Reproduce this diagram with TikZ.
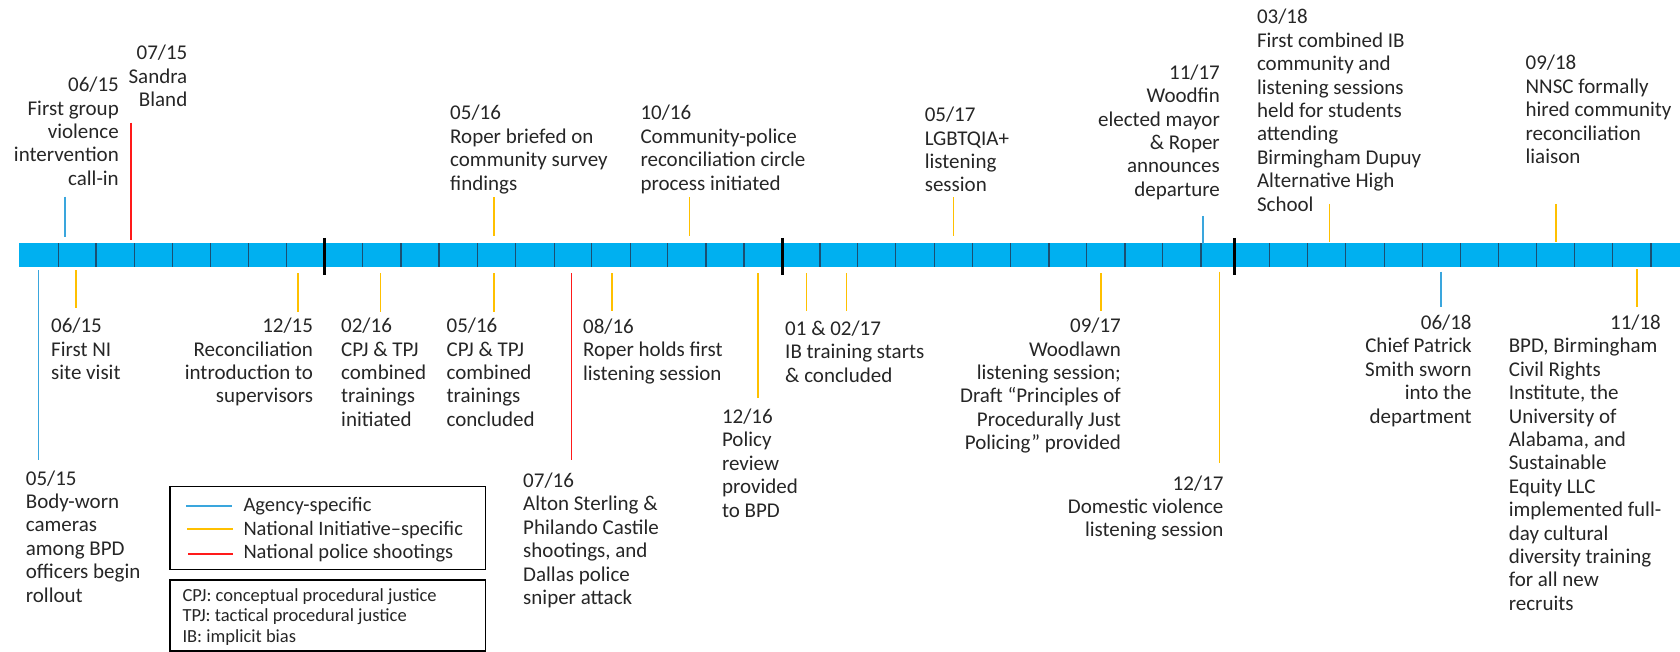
\documentclass[tikz,border=0pt]{standalone}
\usepackage{fontspec}
\setmainfont{Carlito}
\definecolor{barblue}{HTML}{00B0F0}
\definecolor{tickdark}{HTML}{1B4F72}
\definecolor{agencyblue}{HTML}{3AA6DD}
\definecolor{niyellow}{HTML}{FFC000}
\definecolor{shootred}{HTML}{FF1A1A}
\definecolor{txt}{HTML}{262626}
\newcommand\evtfont{\fontsize{21}{23.4}\selectfont}
\newcommand\legfont{\fontsize{20.5}{23.3}\selectfont}
\newcommand\abbrfont{\fontsize{18.5}{20.8}\selectfont}
% fixed height for the first line, so that a node's north sits 17pt above its first baseline
\newcommand\firstln{\rule{0pt}{17pt}}
\tikzset{
  evt/.style={inner sep=0pt, font=\evtfont, text=txt},
  lft/.style={evt, anchor=north west, align=left},
  rgt/.style={evt, anchor=north east, align=right},
  agency/.style={line width=1.6pt, draw=agencyblue},
  niline/.style={line width=1.6pt, draw=niyellow},
  shoot/.style={line width=1.6pt, draw=shootred},
  monthtick/.style={line width=1.2pt, draw=tickdark},
  yeartick/.style={line width=3pt, draw=black},
  legbox/.style={draw=black, line width=1.4pt},
}
\begin{document}
\begin{tikzpicture}[x=1pt,y=-1pt]
\useasboundingbox (0,0) rectangle (1680,652);

% ---- timeline bar ----
\fill[barblue] (19,243.3) rectangle (1680,266.7);
\foreach \t in {58.3,96,134.3,172.7,210.7,248.7,286.7,
                362.7,401,439,477.3,515.3,554.3,591.7,630.3,667.7,706,744,
                820,857.7,895.7,934.3,972.3,1010.7,1049,1086.7,1125,1162.7,1201,
                1269.3,1307.7,1345.7,1384.3,1422.3,1460.7,1498.3,1536.7,1574.3,1612.7,1651}
  \draw[monthtick] (\t,243.3) -- (\t,266.7);
\foreach \t in {324.3,782.7,1234.3}
  \draw[yeartick] (\t,238) -- (\t,275);

% ---- events above the bar ----
\draw[agency] (65,196.7) -- (65,236.7);
\node[rgt] (e0615a) at (119,74.5) {\firstln 06/15\\First group\\violence\\intervention\\call-in};

\draw[shoot] (131,122.7) -- (131,240);
\node[rgt] (e0715) at (187.5,42.8) {\firstln 07/15\\Sandra\\Bland};

\draw[niline] (494,197.3) -- (494,235.7);
\node[lft] (e0516a) at (450,102.8) {\firstln 05/16\\Roper briefed on\\community survey\\findings};

\draw[niline] (689.3,197.3) -- (689.3,235.7);
\node[lft] (e1016) at (640.3,102.8) {\firstln 10/16\\Community-police\\reconciliation circle\\process initiated};

\draw[niline] (953.5,197.3) -- (953.5,235.7);
\node[lft] (e0517) at (924.6,104.5) {\firstln 05/17\\LGBTQIA+\\listening\\session};

\draw[agency] (1203,216) -- (1203,244);
\node[rgt] (e1117) at (1220,62.2) {\firstln 11/17\\Woodfin\\elected mayor\\\& Roper\\announces\\departure};

\draw[niline] (1329.3,204) -- (1329.3,241.7);
\node[lft] (e0318) at (1256.8,6.8) {\firstln 03/18\\First combined IB\\community and\\listening sessions\\held for students\\attending\\Birmingham Dupuy\\Alternative High\\School};

\draw[niline] (1555.7,204) -- (1555.7,241.7);
\node[lft] (e0918) at (1525.4,52.8) {\firstln 09/18\\NNSC formally\\hired community\\reconciliation\\liaison};

% ---- events below the bar ----
\draw[agency] (38.6,270) -- (38.6,460);
\node[lft] (e0515) at (25.7,467.8) {\firstln 05/15\\Body-worn\\cameras\\among BPD\\officers begin\\rollout};

\draw[niline] (76,270) -- (76,308.3);
\node[lft] (e0615b) at (51,315.5) {\firstln 06/15\\First NI\\site visit};

\draw[niline] (298,273.3) -- (298,311.7);
\node[rgt] (e1215) at (313.2,315.5) {\firstln 12/15\\Reconciliation\\introduction to\\supervisors};

\draw[niline] (380.4,273.3) -- (380.4,311.7);
\node[lft] (e0216) at (341,315.5) {\firstln 02/16\\CPJ \& TPJ\\combined\\trainings\\initiated};

\draw[niline] (494,273.3) -- (494,311.7);
\node[lft] (e0516b) at (446.4,315.5) {\firstln 05/16\\CPJ \& TPJ\\combined\\trainings\\concluded};

\draw[shoot] (571.5,273.3) -- (571.5,460);
\node[lft] (e0716) at (523,470.2) {\firstln 07/16\\Alton Sterling \&\\Philando Castile\\shootings, and\\Dallas police\\sniper attack};

\draw[niline] (612,273.3) -- (612,311);
\node[lft] (e0816) at (582.9,316.2) {\firstln 08/16\\Roper holds first\\listening session};

\draw[niline] (758,273.3) -- (758,398.3);
\node[lft] (e1216) at (721.8,406.2) {\firstln 12/16\\Policy\\review\\provided\\to BPD};

\draw[niline] (806.3,273.3) -- (806.3,311);
\draw[niline] (846.6,273.3) -- (846.6,311);
\node[lft] (e0117) at (785,318.3) {\firstln 01 \& 02/17\\IB training starts\\\& concluded};

\draw[niline] (1101,273.3) -- (1101,311);
\node[rgt] (e0917) at (1121,315.5) {\firstln 09/17\\Woodlawn\\listening session;\\Draft “Principles of\\Procedurally Just\\Policing” provided};

\draw[niline] (1219.3,271.7) -- (1219.3,462.7);
\node[rgt] (e1217) at (1223.6,472.8) {\firstln 12/17\\Domestic violence\\listening session};

\draw[agency] (1441,271.7) -- (1441,306.7);
\node[rgt] (e0618) at (1471.8,312.2) {\firstln 06/18\\Chief Patrick\\Smith sworn\\into the\\department};

\draw[niline] (1636.8,269.3) -- (1636.8,306.7);
\node[evt, anchor=north east, align=right] (e1118d) at (1661,312.2) {\firstln 11/18};
\node[lft] (e1118) at (1508.6,335.6) {\firstln BPD, Birmingham\\Civil Rights\\Institute, the\\University of\\Alabama, and\\Sustainable\\Equity LLC\\implemented full-\\day cultural\\diversity training\\for all new\\recruits};

% ---- legend ----
\draw[legbox] (170,486.5) rectangle (485.5,569.3);
\draw[agency] (186,506) -- (232,506);
\draw[niline] (187,528.7) -- (232.5,528.7);
\draw[shoot] (188,554) -- (233,554);
\node[evt, anchor=north west, align=left, font=\legfont] (legtext) at (243.3,494.5)
  {\firstln Agency-specific\\National Initiative–specific\\National police shootings};

\draw[legbox] (170,580) rectangle (485.5,651);
\node[evt, anchor=north west, align=left, font=\abbrfont] (abbr) at (182.3,583.8)
  {\firstln CPJ: conceptual procedural justice\\TPJ: tactical procedural justice\\IB: implicit bias};
\end{tikzpicture}
\end{document}
